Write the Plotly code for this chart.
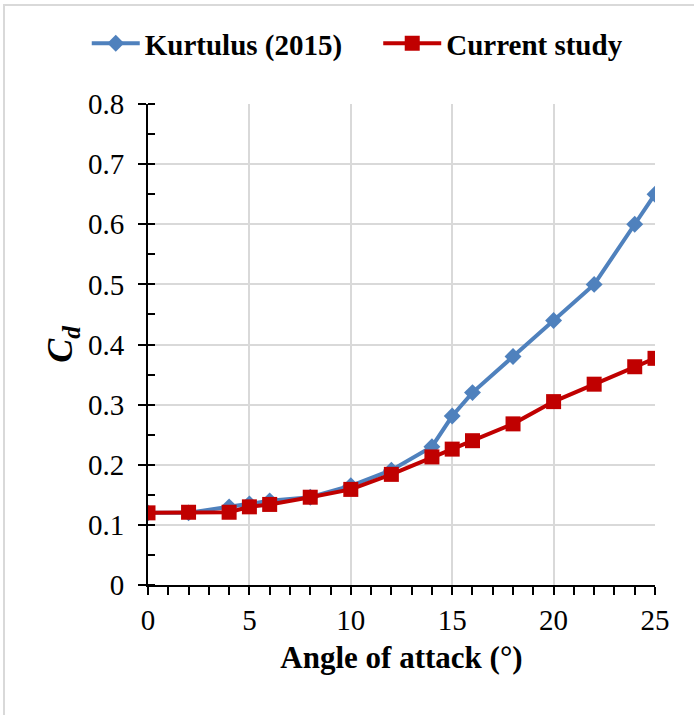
import plotly.graph_objects as go

aoa_kurtulus = [0, 2, 4, 5, 6, 8, 10, 12, 14, 15, 16, 18, 20, 22, 24, 25]
cd_kurtulus = [0.12, 0.12, 0.13, 0.135, 0.14, 0.146, 0.165, 0.191, 0.23, 0.281, 0.32, 0.38, 0.44, 0.50, 0.60, 0.65]

aoa_current = [0, 2, 4, 5, 6, 8, 10, 12, 14, 15, 16, 18, 20, 22, 24, 25]
cd_current = [0.12, 0.121, 0.121, 0.13, 0.134, 0.146, 0.159, 0.184, 0.213, 0.226, 0.24, 0.268, 0.305, 0.334, 0.363, 0.377]

x_ticks = [0, 5, 10, 15, 20, 25]
y_ticks = [0, 0.1, 0.2, 0.3, 0.4, 0.5, 0.6, 0.7, 0.8]
y_tick_labels = ["0", "0.1", "0.2", "0.3", "0.4", "0.5", "0.6", "0.7", "0.8"]

FONT = "Liberation Serif"

fig = go.Figure()
fig.add_trace(go.Scatter(
    x=aoa_kurtulus, y=cd_kurtulus, mode="lines+markers", name="<b>Kurtulus (2015)</b>",
    line=dict(color="#4F81BD", width=4),
    marker=dict(symbol="diamond", size=13, color="#4F81BD"),
    legend="legend",
))
fig.add_trace(go.Scatter(
    x=aoa_current, y=cd_current, mode="lines+markers", name="<b>Current study</b>",
    line=dict(color="#C00000", width=4),
    marker=dict(symbol="square", size=15, color="#C00000"),
    legend="legend2",
))

leg_common = dict(
    orientation="h", xref="container", yref="container",
    y=0.975, xanchor="left", yanchor="top",
    font=dict(family=FONT, size=29, color="black"),
    bgcolor="rgba(0,0,0,0)",
)

fig.update_layout(
    width=694, height=715,
    margin=dict(l=148, r=39, t=104, b=130, autoexpand=False),
    paper_bgcolor="white", plot_bgcolor="white",
    font=dict(family=FONT, color="black", size=29),
    showlegend=True,
    legend=dict(x=0.125, itemwidth=48, **leg_common),
    legend2=dict(x=0.545, itemwidth=58, **leg_common),
    xaxis=dict(
        range=[0, 25], tickvals=x_ticks, showgrid=True, gridcolor="#D9D9D9", gridwidth=1.5,
        showline=True, linecolor="black", linewidth=2, zeroline=False,
        ticks="outside", ticklen=8, tickwidth=2, tickcolor="black",
        minor=dict(dtick=1, ticks="outside", ticklen=8, tickwidth=1.5, tickcolor="black", showgrid=False),
        tickfont=dict(family=FONT, size=29),
        title=dict(text="<b>Angle of attack (°)</b>", font=dict(family=FONT, size=31), standoff=12),
    ),
    yaxis=dict(
        range=[0, 0.8], tickvals=y_ticks, ticktext=y_tick_labels,
        showgrid=True, gridcolor="#D9D9D9", gridwidth=1.5,
        showline=True, linecolor="black", linewidth=2, zeroline=False,
        ticks="outside", ticklen=8, tickwidth=2, tickcolor="black", ticklabelstandoff=8,
        minor=dict(dtick=0.05, ticks="inside", ticklen=7, tickwidth=1.5, tickcolor="black", showgrid=False),
        tickfont=dict(family=FONT, size=29),
        title=dict(text="<b><i>C<sub>d</sub></i></b>", font=dict(family=FONT, size=36), standoff=4),
    ),
)

fig.add_shape(type="rect", xref="paper", yref="paper",
              x0=-144/507, x1=1 + 80/507,
              y0=-200/481, y1=1 + 99/481,
              line=dict(color="#D9D9D9", width=2), layer="below")

fig.write_html("out.html")
